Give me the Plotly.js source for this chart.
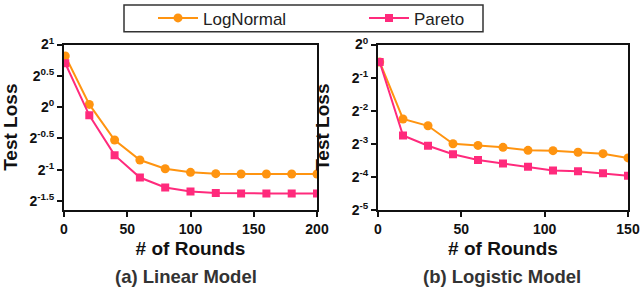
<!DOCTYPE html>
<html>
<head>
<meta charset="utf-8">
<script src="https://cdn.plot.ly/plotly-3.0.1.min.js"></script>
<style>html,body{margin:0;padding:0;background:#fff}#chart{width:640px;height:288px}</style>
</head>
<body>
<div id="chart"></div>
<script>
// Linear model (left panel)
const linearRounds = [1, 20, 40, 60, 80, 100, 120, 140, 160, 180, 200];
const linearLogNormal = [1.762, 1.030, 0.694, 0.556, 0.505, 0.485, 0.478, 0.476, 0.476, 0.476, 0.476];
const linearPareto = [1.625, 0.913, 0.587, 0.458, 0.410, 0.392, 0.386, 0.384, 0.384, 0.384, 0.384];

// Logistic model (right panel)
const logisticRounds = [1, 15, 30, 45, 60, 75, 90, 105, 120, 135, 150];
const logisticLogNormal = [0.694, 0.210, 0.182, 0.125, 0.1207, 0.1158, 0.1088, 0.1081, 0.1044, 0.1015, 0.0928];
const logisticPareto = [0.693, 0.1487, 0.1199, 0.1001, 0.0890, 0.0825, 0.0770, 0.0713, 0.0703, 0.0674, 0.0638];

// Tick labels
const linearYExponents = [1, 0.5, 0, -0.5, -1, -1.5];
const logisticYExponents = [0, -1, -2, -3, -4, -5];
const linearXTicks = [0, 50, 100, 150, 200];
const logisticXTicks = [0, 50, 100, 150];
const seriesNames = ["LogNormal", "Pareto"];
const captions = ["(a) Linear Model", "(b) Logistic Model"];

const orange = "#FF9410";
const pink = "#FF2A7C";
const FONT = "Liberation Sans, Arial, sans-serif";

function trace(x, y, name, color, symbol, size, xa, ya, showlegend) {
  return {
    x: x, y: y, name: name, type: "scatter", mode: "lines+markers",
    xaxis: xa, yaxis: ya, showlegend: showlegend,
    line: {color: color, width: 2},
    marker: {color: color, symbol: symbol, size: size}
  };
}

const data = [
  trace(linearRounds, linearLogNormal, seriesNames[0], orange, "circle", 9, "x", "y", true),
  trace(linearRounds, linearPareto, seriesNames[1], pink, "square", 8, "x", "y", true),
  trace(logisticRounds, logisticLogNormal, seriesNames[0], orange, "circle", 9, "x2", "y2", false),
  trace(logisticRounds, logisticPareto, seriesNames[1], pink, "square", 8, "x2", "y2", false)
];

const tickFont = {family: FONT, size: 14, color: "#111", weight: "bold"};
const titleFont = {family: FONT, size: 19, color: "#111", weight: "bold"};

function xAxis(domain, range, ticks, anchor) {
  return {
    domain: domain, range: range, anchor: anchor,
    tickvals: ticks, ticktext: ticks.map(String),
    ticks: "outside", ticklen: 5, tickwidth: 2, tickcolor: "#111",
    showline: true, linewidth: 2, linecolor: "#111", mirror: true,
    showgrid: false, zeroline: false, tickfont: tickFont,
    title: {text: "# of Rounds", font: titleFont, standoff: 6}
  };
}
function yAxis(domain, exps, anchor) {
  return {
    domain: domain, type: "log", anchor: anchor,
    range: [Math.min.apply(null, exps) * Math.log10(2), Math.max.apply(null, exps) * Math.log10(2)],
    tickvals: exps.map(e => Math.pow(2, e)),
    ticktext: exps.map(e => "2<sup>" + e + "</sup>"),
    ticks: "outside", ticklen: 5, tickwidth: 2, tickcolor: "#111",
    showline: true, linewidth: 2, linecolor: "#111", mirror: true,
    showgrid: false, zeroline: false, tickfont: tickFont,
    title: {text: "Test Loss", font: titleFont}
  };
}

const yDom = [(288 - 209) / 288, (288 - 42) / 288];
const leftY = yAxis(yDom, linearYExponents, "x");
leftY.range = [-1.643 * Math.log10(2), 1 * Math.log10(2)];
const rightY = yAxis(yDom, logisticYExponents, "x2");

const layout = {
  width: 640, height: 288,
  margin: {l: 0, r: 0, t: 0, b: 0},
  paper_bgcolor: "#fff", plot_bgcolor: "#fff",
  font: {family: FONT, color: "#111"},
  showlegend: true,
  legend: {
    orientation: "h", x: 153 / 640, xanchor: "left", y: 1 - 15.5 / 288, yanchor: "middle",
    font: {family: FONT, size: 17, color: "#222"},
    itemwidth: 40, entrywidth: 156, borderwidth: 0, bgcolor: "rgba(0,0,0,0)"
  },
  xaxis: xAxis([64 / 640, 317 / 640], [0, 200], linearXTicks, "y"),
  yaxis: leftY,
  xaxis2: xAxis([378 / 640, 628 / 640], [0, 150], logisticXTicks, "y2"),
  yaxis2: rightY,
  shapes: [{
    type: "rect", xref: "paper", yref: "paper",
    x0: 124 / 640, x1: 483 / 640, y0: 1 - 29 / 288, y1: 1 - 2 / 288,
    line: {color: "#333", width: 1.5}
  }],
  annotations: [
    {text: captions[0], xref: "paper", yref: "paper", x: 186 / 640, y: 12 / 288, xanchor: "center", yanchor: "middle", showarrow: false, font: {family: FONT, size: 18.5, color: "#333", weight: "bold"}},
    {text: captions[1], xref: "paper", yref: "paper", x: 502 / 640, y: 12 / 288, xanchor: "center", yanchor: "middle", showarrow: false, font: {family: FONT, size: 18.5, color: "#333", weight: "bold"}}
  ]
};

Plotly.newPlot("chart", data, layout, {displayModeBar: false, staticPlot: true});
</script>
</body>
</html>
